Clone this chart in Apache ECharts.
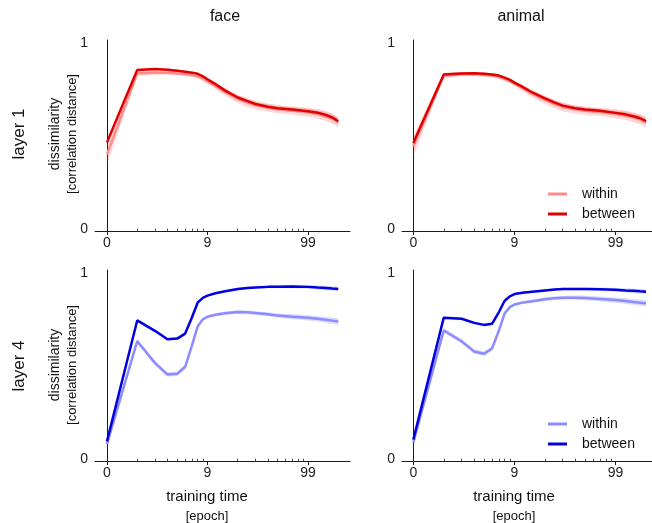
<!DOCTYPE html>
<html>
<head>
<meta charset="utf-8">
<script src="https://cdn.jsdelivr.net/npm/echarts@6/dist/echarts.min.js"></script>
<style>
  html, body { margin: 0; padding: 0; background: #fff; }
  #chart { width: 652px; height: 523px; }
</style>
</head>
<body>
<div id="chart"></div>
<script>
// epochs sampled along the training curve
var epochs = [0, 1, 2, 3, 4, 5, 6, 7, 8, 9, 11, 14, 19, 24, 29, 39, 49, 69, 99, 124, 149, 174, 199];

// layer 1 - face
var faceL1Within  = [0.400, 0.838, 0.843, 0.842, 0.838, 0.834, 0.829, 0.823, 0.810, 0.795, 0.770, 0.737, 0.700, 0.680, 0.667, 0.653, 0.645, 0.638, 0.628, 0.620, 0.608, 0.594, 0.575];
var faceL1Between = [0.466, 0.856, 0.861, 0.858, 0.852, 0.847, 0.842, 0.836, 0.822, 0.806, 0.780, 0.745, 0.708, 0.688, 0.673, 0.658, 0.650, 0.643, 0.634, 0.626, 0.614, 0.600, 0.580];
// layer 1 - animal
var animL1Within  = [0.445, 0.826, 0.833, 0.834, 0.831, 0.826, 0.820, 0.809, 0.797, 0.782, 0.758, 0.727, 0.695, 0.672, 0.657, 0.644, 0.637, 0.630, 0.620, 0.612, 0.602, 0.591, 0.575];
var animL1Between = [0.463, 0.832, 0.838, 0.839, 0.836, 0.832, 0.826, 0.815, 0.803, 0.788, 0.765, 0.735, 0.703, 0.680, 0.664, 0.650, 0.643, 0.636, 0.625, 0.617, 0.607, 0.596, 0.580];
// layer 4 - face
var faceL4Within  = [0.079, 0.634, 0.517, 0.454, 0.458, 0.496, 0.610, 0.715, 0.752, 0.766, 0.777, 0.785, 0.791, 0.790, 0.786, 0.779, 0.772, 0.766, 0.760, 0.755, 0.750, 0.745, 0.740];
var faceL4Between = [0.094, 0.746, 0.690, 0.645, 0.648, 0.675, 0.762, 0.843, 0.868, 0.880, 0.893, 0.903, 0.915, 0.921, 0.924, 0.927, 0.928, 0.929, 0.927, 0.923, 0.921, 0.918, 0.916];
// layer 4 - animal
var animL4Within  = [0.088, 0.692, 0.634, 0.578, 0.566, 0.595, 0.690, 0.784, 0.818, 0.832, 0.842, 0.850, 0.860, 0.866, 0.868, 0.869, 0.867, 0.862, 0.856, 0.851, 0.846, 0.842, 0.838];
var animL4Between = [0.103, 0.761, 0.755, 0.733, 0.722, 0.728, 0.790, 0.852, 0.876, 0.888, 0.895, 0.901, 0.908, 0.913, 0.915, 0.916, 0.916, 0.914, 0.911, 0.908, 0.906, 0.903, 0.901];

// spread (shaded band half-width)
var sdL1Within  = [0.055, 0.015, 0.012, 0.012, 0.012, 0.012, 0.012, 0.012, 0.013, 0.014, 0.016, 0.019, 0.022, 0.024, 0.024, 0.022, 0.022, 0.022, 0.024, 0.026, 0.027, 0.028, 0.028];
var sdL1Between = [0.020, 0.008, 0.007, 0.007, 0.007, 0.007, 0.007, 0.007, 0.008, 0.009, 0.010, 0.011, 0.013, 0.014, 0.014, 0.013, 0.013, 0.013, 0.014, 0.015, 0.016, 0.017, 0.018];
var sdL4Within  = [0.020, 0.012, 0.012, 0.012, 0.012, 0.012, 0.012, 0.010, 0.008, 0.008, 0.008, 0.009, 0.010, 0.010, 0.010, 0.011, 0.012, 0.013, 0.014, 0.015, 0.016, 0.017, 0.018];
var sdL4Between = [0.012, 0.008, 0.008, 0.008, 0.008, 0.008, 0.008, 0.006, 0.005, 0.005, 0.005, 0.006, 0.006, 0.006, 0.007, 0.007, 0.008, 0.009, 0.010, 0.011, 0.012, 0.013, 0.013];

// axis ticks
var xTickEpochs = [0, 9, 99];
var xMinorEpochs = [1, 2, 3, 4, 5, 6, 7, 8, 19, 29, 39, 49, 59, 69, 79, 89];
var yTicks = [0, 1];

var FONT = 'Liberation Sans, Arial, Helvetica, sans-serif';
var lg = function (e) { return Math.log10(e + 1); };
var xMajor = xTickEpochs.map(lg);
var xMinor = xMinorEpochs.map(lg);

var red = { within: '#ff8c8c', between: '#e00000', bandW: 'rgba(255,60,60,0.2)', bandB: 'rgba(230,0,0,0.16)' };
var blue = { within: '#8c8cff', between: '#0000e0', bandW: 'rgba(60,60,255,0.18)', bandB: 'rgba(0,0,230,0.14)' };

var panels = [
  { left: 95,  top: 40,  width: 255, xmin: -0.119, xmax: 2.418, w: faceL1Within, b: faceL1Between, sdW: sdL1Within, sdB: sdL1Between, c: red, tag: 'L1' },
  { left: 402, top: 40,  width: 250, xmin: -0.112, xmax: 2.36,  w: animL1Within, b: animL1Between, sdW: sdL1Within, sdB: sdL1Between, c: red, tag: 'L1' },
  { left: 95,  top: 270, width: 255, xmin: -0.119, xmax: 2.418, w: faceL4Within, b: faceL4Between, sdW: sdL4Within, sdB: sdL4Between, c: blue, tag: 'L4' },
  { left: 402, top: 270, width: 250, xmin: -0.112, xmax: 2.36,  w: animL4Within, b: animL4Between, sdW: sdL4Within, sdB: sdL4Between, c: blue, tag: 'L4' }
];

var grid = [], xAxis = [], yAxis = [], series = [];

// shaded band: one polygon per series, built from the data through the axes
function bandSeries(xi, yi, vals, sd, color) {
  var rows = epochs.map(function (e, k) { return [lg(e), vals[k] - sd[k], vals[k] + sd[k]]; });
  return {
    type: 'custom', xAxisIndex: xi, yAxisIndex: yi, silent: true, clip: true,
    data: rows,
    encode: { x: 0, y: [1, 2] },
    renderItem: function (params, api) {
      if (params.dataIndex !== 0) return;
      var pts = [];
      rows.forEach(function (r) { pts.push(api.coord([r[0], r[2]])); });
      for (var k = rows.length - 1; k >= 0; k--) pts.push(api.coord([rows[k][0], rows[k][1]]));
      return { type: 'polygon', shape: { points: pts }, style: { fill: color } };
    }
  };
}

panels.forEach(function (p, i) {
  grid.push({ left: p.left, top: p.top, width: p.width, height: 191 });

  // major ticks + labels
  xAxis.push({
    type: 'value', gridIndex: i, position: 'bottom', min: p.xmin, max: p.xmax,
    axisLine: { onZero: false, lineStyle: { color: '#1a1a1a', width: 1 } },
    axisTick: { customValues: xMajor, length: 4, lineStyle: { color: '#1a1a1a' } },
    axisLabel: {
      customValues: xMajor, margin: 5, fontSize: 14, fontFamily: FONT, color: '#222',
      formatter: function (v) {
        var k = xMajor.findIndex(function (m) { return Math.abs(m - v) < 1e-6; });
        return k >= 0 ? String(xTickEpochs[k]) : '';
      }
    },
    splitLine: { show: false }
  });
  // minor ticks
  xAxis.push({
    type: 'value', gridIndex: i, position: 'bottom', min: p.xmin, max: p.xmax,
    axisLine: { show: false },
    axisTick: { customValues: xMinor, length: 2, lineStyle: { color: '#333' } },
    axisLabel: { show: false },
    splitLine: { show: false }
  });

  yAxis.push({
    type: 'value', gridIndex: i, min: -0.012, max: 1.018,
    axisLine: { show: true, lineStyle: { color: '#1a1a1a', width: 1 } },
    axisTick: { show: false },
    axisLabel: { customValues: yTicks, margin: 7, fontSize: 14, fontFamily: FONT, color: '#222' },
    splitLine: { show: false }
  });

  var xi = 2 * i;
  series.push(bandSeries(xi, i, p.w, p.sdW, p.c.bandW));
  series.push({
    type: 'line', name: 'within ' + p.tag, xAxisIndex: xi, yAxisIndex: i,
    symbol: 'none', itemStyle: { color: p.c.within }, lineStyle: { color: p.c.within, width: 2.5 },
    data: epochs.map(function (e, k) { return [lg(e), p.w[k]]; })
  });
  series.push(bandSeries(xi, i, p.b, p.sdB, p.c.bandB));
  series.push({
    type: 'line', name: 'between ' + p.tag, xAxisIndex: xi, yAxisIndex: i,
    symbol: 'none', itemStyle: { color: p.c.between }, lineStyle: { color: p.c.between, width: 2.5 },
    data: epochs.map(function (e, k) { return [lg(e), p.b[k]]; })
  });
});

function legendAt(top, tag) {
  return {
    orient: 'vertical', left: 548, top: top, padding: 0, icon: 'rect',
    itemWidth: 19, itemHeight: 3, itemGap: 4, selectedMode: false,
    data: ['within ' + tag, 'between ' + tag],
    formatter: function (n) { return n.split(' ')[0]; },
    textStyle: { fontSize: 14, fontFamily: FONT, color: '#111', lineHeight: 16, padding: [0, 0, 0, 10] }
  };
}

function txt(x, y, s, size, rot) {
  return {
    type: 'text', x: x, y: y, rotation: rot ? Math.PI / 2 : 0,
    style: { text: s, fontSize: size, fontFamily: FONT, fill: '#111', align: 'center', verticalAlign: 'middle' }
  };
}

var graphic = [
  txt(225, 17, 'face', 16),
  txt(521, 17, 'animal', 16),
  txt(19, 134, 'layer 1', 17, true),
  txt(19, 366, 'layer 4', 17, true),
  txt(55, 134, 'dissimilarity', 14, true),
  txt(72, 134, '[correlation distance]', 13, true),
  txt(55, 365, 'dissimilarity', 14, true),
  txt(72, 365, '[correlation distance]', 13, true),
  txt(207, 497, 'training time', 15),
  txt(207, 516, '[epoch]', 13),
  txt(514, 497, 'training time', 15),
  txt(514, 516, '[epoch]', 13)
];

var chart = echarts.init(document.getElementById('chart'));
chart.setOption({
  animation: false,
  backgroundColor: '#fff',
  grid: grid,
  xAxis: xAxis,
  yAxis: yAxis,
  legend: [legendAt(186, 'L1'), legendAt(416, 'L4')],
  graphic: graphic,
  series: series
});
</script>
</body>
</html>
